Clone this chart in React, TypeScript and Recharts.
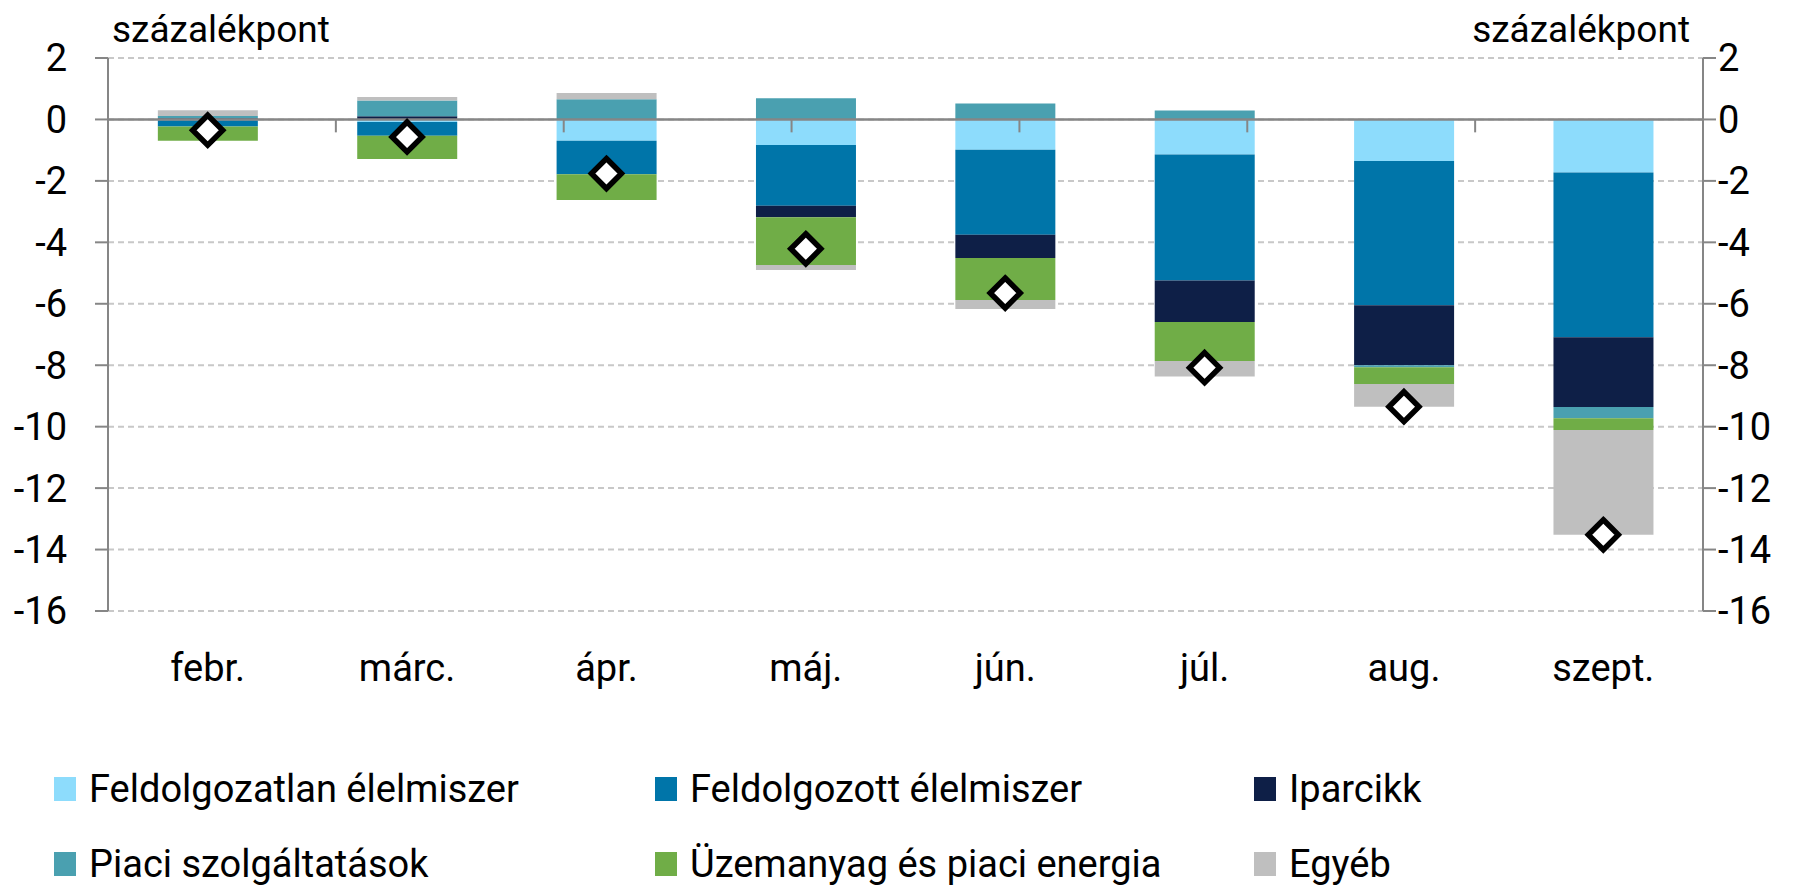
import React from 'react';
import {
  ComposedChart,
  Bar,
  Line,
  XAxis,
  YAxis,
  CartesianGrid,
  ReferenceLine,
  Legend,
} from 'recharts';

const months = ['febr.', 'márc.', 'ápr.', 'máj.', 'jún.', 'júl.', 'aug.', 'szept.'];
const unprocessedFood = [-0.03, -0.08, -0.69, -0.83, -0.99, -1.14, -1.35, -1.73];
const processedFood = [-0.2, -0.45, -1.09, -1.98, -2.76, -4.1, -4.7, -5.36];
const industrialGoods = [0.04, 0.1, 0, -0.37, -0.76, -1.35, -1.95, -2.27];
const marketServices = [0.07, 0.52, 0.66, 0.69, 0.52, 0.29, -0.07, -0.37];
const fuelEnergy = [-0.46, -0.76, -0.84, -1.56, -1.37, -1.27, -0.54, -0.38];
const other = [0.19, 0.11, 0.2, -0.16, -0.29, -0.51, -0.74, -3.41];
const total = [-0.35, -0.57, -1.76, -4.21, -5.65, -8.08, -9.35, -13.52];

const yTicks = [2, 0, -2, -4, -6, -8, -10, -12, -14, -16];
const categoryBoundaries = [1, 2, 3, 4, 5, 6, 7];
const unitLabel = 'százalékpont';

const series = [
  { key: 'unprocessed', name: 'Feldolgozatlan élelmiszer', color: '#8DDCFC' },
  { key: 'processed', name: 'Feldolgozott élelmiszer', color: '#0075A9' },
  { key: 'industrial', name: 'Iparcikk', color: '#0E1F47' },
  { key: 'services', name: 'Piaci szolgáltatások', color: '#4AA0B0' },
  { key: 'fuel', name: 'Üzemanyag és piaci energia', color: '#70AD47' },
  { key: 'other', name: 'Egyéb', color: '#BFBFBF' },
];

const data = months.map((m, i) => ({
  month: m,
  unprocessed: unprocessedFood[i],
  processed: processedFood[i],
  industrial: industrialGoods[i],
  services: marketServices[i],
  fuel: fuelEnergy[i],
  other: other[i],
  total: total[i],
}));

const FONT = 'Roboto, "Noto Sans", sans-serif';
const FS = 37;
const FS_TICK = 38;
const AXIS_COLOR = '#868686';

const Diamond = (props: any) => {
  const { cx, cy, index } = props;
  if (cx == null || cy == null) return <g key={index} />;
  const r = 15;
  return (
    <path
      key={index}
      d={`M${cx},${cy - r}L${cx + r},${cy}L${cx},${cy + r}L${cx - r},${cy}Z`}
      fill="#fff"
      stroke="#000"
      strokeWidth={5.5}
      strokeLinejoin="miter"
    />
  );
};

const XTick = (props: any) => {
  const { x, y, payload } = props;
  return (
    <text
      x={x}
      y={y + 57}
      textAnchor="middle"
      dominantBaseline="central"
      fontSize={38}
      fontFamily={FONT}
      fill="#000"
    >
      {payload.value}
    </text>
  );
};

const LeftTitle = (props: any) => {
  const vb = props.viewBox || {};
  return (
    <text x={vb.x + vb.width + 4} y={vb.y - 16} textAnchor="start" fontSize={FS} fontFamily={FONT} fill="#000">
      {unitLabel}
    </text>
  );
};

const RightTitle = (props: any) => {
  const vb = props.viewBox || {};
  return (
    <text x={vb.x - 13} y={vb.y - 16} textAnchor="end" fontSize={FS} fontFamily={FONT} fill="#000">
      {unitLabel}
    </text>
  );
};

const legendCols = [46, 647, 1246];
const legendRows = [24, 99];

const LegendContent = () => (
  <div style={{ position: 'relative', width: 1791, height: 120, fontFamily: FONT, fontSize: 38, color: '#000' }}>
    {series.map((s, i) => {
      const col = i % 3;
      const row = Math.floor(i / 3);
      const x = legendCols[col];
      const y = legendRows[row];
      return (
        <React.Fragment key={s.key}>
          <div style={{ position: 'absolute', left: x, top: y - 12, width: 22, height: 24, background: s.color }} />
          <div
            style={{
              position: 'absolute',
              left: x + 35,
              top: y,
              transform: 'translateY(-50%)',
              lineHeight: 1,
              whiteSpace: 'nowrap',
            }}
          >
            {s.name}
          </div>
        </React.Fragment>
      );
    })}
  </div>
);

export default function App() {
  return (
    <div style={{ width: 1791, height: 877 }}>
      <ComposedChart
        width={1791}
        height={877}
        data={data}
        stackOffset="sign"
        barCategoryGap="25%"
        margin={{ top: 50, right: 0, bottom: 0, left: 0 }}
      >
        <CartesianGrid
          yAxisId="left"
          vertical={false}
          stroke="#C8C8C8"
          strokeDasharray="6 4"
          strokeWidth={2}
        />
        <XAxis
          dataKey="month"
          height={154}
          axisLine={false}
          tickLine={false}
          tickSize={0}
          tickMargin={0}
          interval={0}
          tick={<XTick />}
        />
        <XAxis xAxisId="bounds" type="number" domain={[0, 8]} hide allowDataOverflow />
        <YAxis
          yAxisId="left"
          domain={[-16, 2]}
          ticks={yTicks}
          interval={0}
          width={100}
          tickSize={13}
          tickMargin={28}
          allowDataOverflow
          axisLine={{ stroke: AXIS_COLOR, strokeWidth: 2 }}
          tickLine={{ stroke: AXIS_COLOR, strokeWidth: 2 }}
          tick={{ fontSize: FS_TICK, fill: '#000', fontFamily: FONT }}
          label={<LeftTitle />}
        />
        <YAxis
          yAxisId="right"
          orientation="right"
          domain={[-16, 2]}
          ticks={yTicks}
          interval={0}
          width={96}
          tickSize={13}
          tickMargin={2}
          allowDataOverflow
          axisLine={{ stroke: AXIS_COLOR, strokeWidth: 2 }}
          tickLine={{ stroke: AXIS_COLOR, strokeWidth: 2 }}
          tick={{ fontSize: FS_TICK, fill: '#000', fontFamily: FONT }}
          label={<RightTitle />}
        />
        {series.map((s) => (
          <Bar
            key={s.key}
            yAxisId="left"
            dataKey={s.key}
            name={s.name}
            stackId="a"
            fill={s.color}
            isAnimationActive={false}
          />
        ))}
        <ReferenceLine yAxisId="left" y={0} stroke={AXIS_COLOR} strokeWidth={2.5} />
        {categoryBoundaries.map((b) => (
          <ReferenceLine
            key={b}
            xAxisId="bounds"
            yAxisId="left"
            segment={[
              { x: b, y: 0 },
              { x: b, y: -0.42 },
            ]}
            stroke={AXIS_COLOR}
            strokeWidth={2}
          />
        ))}
        <Line
          yAxisId="left"
          dataKey="total"
          stroke="none"
          legendType="none"
          dot={(p: any) => <Diamond key={p.index} {...p} />}
          activeDot={false}
          isAnimationActive={false}
        />
        <Legend verticalAlign="bottom" align="left" height={120} content={<LegendContent />} />
      </ComposedChart>
    </div>
  );
}
